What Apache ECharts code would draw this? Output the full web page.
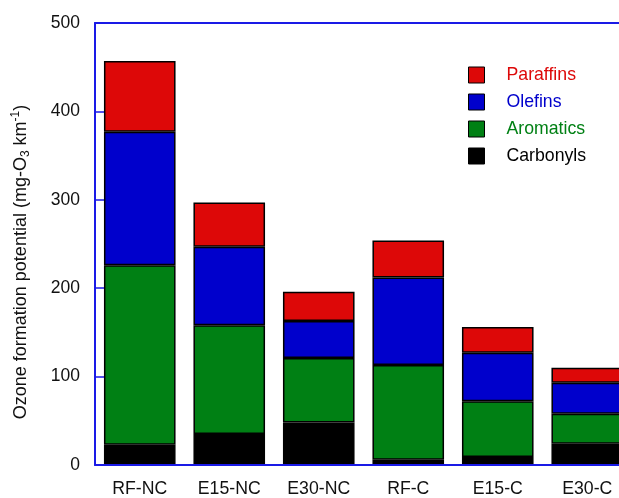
<!DOCTYPE html>
<html>
<head>
<meta charset="utf-8">
<script src="https://cdn.jsdelivr.net/npm/echarts@6/dist/echarts.min.js"></script>
<style>
  html, body { margin: 0; padding: 0; overflow: hidden; background: #fff; }
  #chart { width: 640px; height: 498px; }
</style>
</head>
<body>
<div id="chart"></div>
<script>
// categories and stacked values (mg-O3 km-1)
const categories = ['RF-NC', 'E15-NC', 'E30-NC', 'RF-C', 'E15-C', 'E30-C']
const carbonyls = [23, 35, 48, 6, 9, 24]
const aromatics = [203, 123, 73, 107, 63, 34]
const olefins = [151, 89, 42, 99, 55, 35]
const paraffins = [80, 50, 33, 42, 29, 17]
const yTicks = [0, 100, 200, 300, 400, 500]

const axisBlue = '#1a1ae6'
const font = 'Liberation Sans, Arial, sans-serif'

const seriesDefs = [
  { name: 'Carbonyls', data: carbonyls, color: '#000000' },
  { name: 'Aromatics', data: aromatics, color: '#008014' },
  { name: 'Olefins', data: olefins, color: '#0000cc' },
  { name: 'Paraffins', data: paraffins, color: '#dd0808' },
]

const chart = echarts.init(document.getElementById('chart'))

chart.setOption({
  animation: false,
  backgroundColor: '#fff',
  grid: { left: 95, right: 8, top: 23, bottom: 32 },
  legend: {
    orient: 'vertical',
    left: 463,
    top: 61,
    itemWidth: 16,
    itemHeight: 16,
    itemGap: 9,
    icon: 'rect',
    itemStyle: { borderColor: '#000', borderWidth: 1 },
    data: ['Paraffins', 'Olefins', 'Aromatics', 'Carbonyls'].map((n) => ({
      name: n,
      textStyle: { color: seriesDefs.find((s) => s.name === n).color },
    })),
    textStyle: { fontFamily: font, fontSize: 17.7, lineHeight: 16, padding: [0, 0, 0, 17] },
  },
  xAxis: [
    {
      type: 'category',
      data: categories,
      axisLine: { lineStyle: { color: axisBlue, width: 2 } },
      axisTick: { inside: true, length: 10, lineStyle: { color: axisBlue, width: 1.5 } },
      axisLabel: { color: '#111', fontFamily: font, fontSize: 17.7, margin: 15 },
      z: 10,
    },
    {
      type: 'category',
      position: 'top',
      data: categories,
      axisLine: { lineStyle: { color: axisBlue, width: 2 } },
      axisTick: { inside: true, length: 10, lineStyle: { color: axisBlue, width: 1.5 } },
      axisLabel: { show: false },
    },
  ],
  yAxis: {
    type: 'value',
    min: yTicks[0],
    max: yTicks[yTicks.length - 1],
    interval: 100,
    splitLine: { show: false },
    axisLine: { show: true, lineStyle: { color: axisBlue, width: 2 } },
    axisTick: { show: true, inside: true, length: 10, lineStyle: { color: axisBlue, width: 1.5 } },
    axisLabel: { color: '#111', fontFamily: font, fontSize: 17.5, margin: 15 },
    name: '{a|Ozone formation potential (mg-O}{s|3}{a| km}{p|-1}{a|)}',
    nameLocation: 'middle',
    nameRotate: 90,
    nameGap: 63,
    nameTextStyle: {
      padding: [0, 36, 0, 0],
      rich: {
        a: { fontFamily: font, fontSize: 18, color: '#111', lineHeight: 22 },
        s: { fontFamily: font, fontSize: 12, color: '#111', lineHeight: 12, verticalAlign: 'bottom' },
        p: { fontFamily: font, fontSize: 12, color: '#111', lineHeight: 12, verticalAlign: 'top' },
      },
    },
  },
  series: seriesDefs.map((s) => ({
    name: s.name,
    type: 'bar',
    stack: 'total',
    data: s.data,
    barWidth: '80%',
    itemStyle: { color: s.color, borderColor: '#000', borderWidth: 1.5 },
  })),
})
</script>
</body>
</html>
